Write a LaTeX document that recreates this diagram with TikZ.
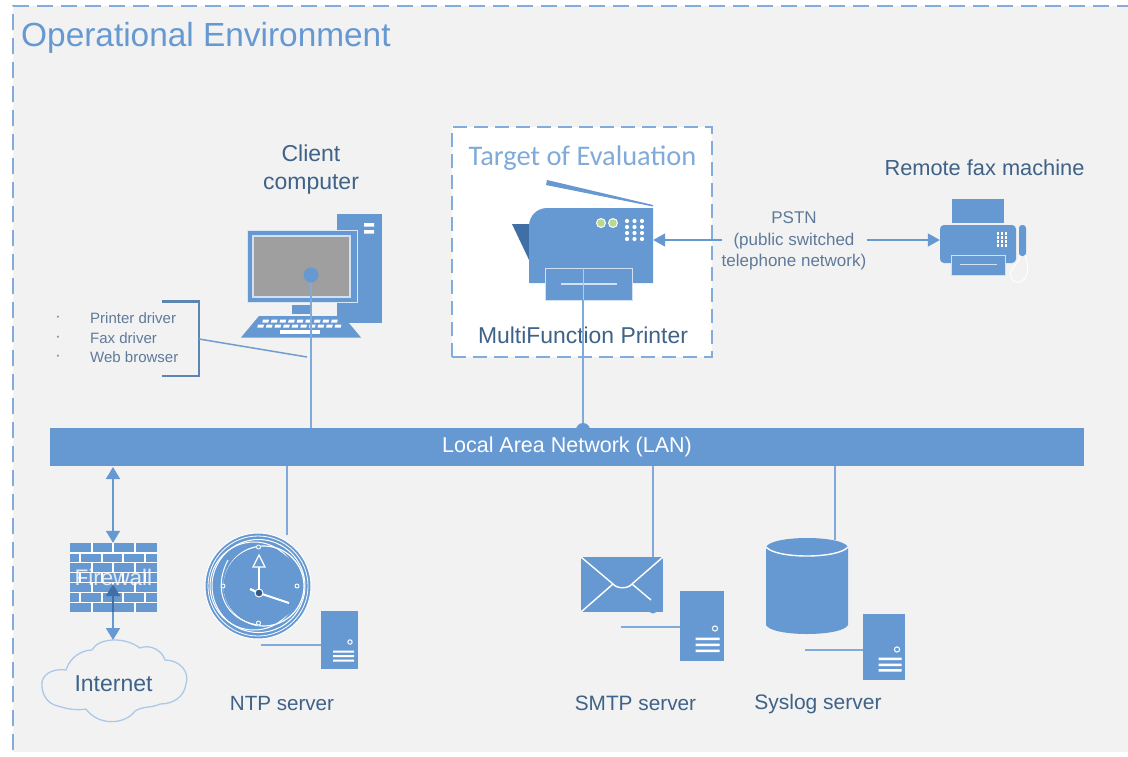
\documentclass[tikz,border=0pt]{standalone}
\usepackage{fontspec}
\setmainfont{Liberation Sans}
\newfontfamily\calib{Carlito}
\usetikzlibrary{arrows.meta,calc}
\definecolor{mainblue}{HTML}{6699D2}
\definecolor{linkblue}{HTML}{7FAAD9}
\definecolor{dashblue}{HTML}{82ACDB}
\definecolor{inkblue}{HTML}{3F6288}
\definecolor{softink}{HTML}{5F7A99}
\definecolor{bggray}{HTML}{F2F2F2}
\definecolor{darkblue}{HTML}{3F6FA5}
\newcommand{\fs}[1]{\fontsize{#1}{#1}\selectfont}
\tikzset{
  solidbox/.style={fill=mainblue,draw=none,inner sep=0pt,minimum width=#1},
  tall/.style={minimum height=#1},
  link/.style={draw=linkblue,line width=1.6pt},
  flow/.style={draw=mainblue,line width=1.7pt,-{Triangle[length=12pt,width=13pt]}},
  twoway/.style={draw=mainblue,line width=1.7pt,{Triangle[length=12pt,width=14pt]}-{Triangle[length=12pt,width=14pt]}},
  label/.style={text=inkblue,inner sep=0pt,align=center},
  whiteln/.style={draw=white,line width=1.4pt},
  paleln/.style={draw=white!70!mainblue,line width=1.2pt},
}
\begin{document}
\begin{tikzpicture}[x=1pt,y=-1pt]
\useasboundingbox (0,0) rectangle (1128,756);
\fill[white] (0,0) rectangle (1128,756);
\fill[bggray] (13,6) rectangle (1128,752);
% outer dashed border
\draw[dashblue,line width=2.2pt,dash pattern=on 16pt off 8pt] (13,750) -- (13,6) -- (1128,6);
\node[text=mainblue,inner sep=0pt,anchor=west] (openv) at (21,37.5) {\fs{33.4}Operational Environment};

% target of evaluation
\node[fill=white,draw=dashblue,line width=2.6pt,dash pattern=on 14pt off 7pt,inner sep=0pt,minimum width=260pt,minimum height=230pt] (toe) at (582,242) {};
\node[inner sep=0pt,text=linkblue] (toetitle) at (582.5,158) {\calib\fs{28.4}Target of Evaluation};

% connectors to LAN (under icons)
\coordinate (lanref) at (567,428);
\coordinate (clientdot) at (311,275);
\coordinate (mfpbase) at (583,300);
\coordinate (ntpdrop) at (287,535);
\coordinate (smtpdrop) at (653,557);
\coordinate (sysdrop) at (835,540);
\draw[link] (mfpbase) -- (mfpbase |- lanref);
\fill[mainblue] (583,430) circle (7pt);
% LAN
\node[solidbox=1034pt,tall=38pt,text=white] (lan) at (567,447) {\raisebox{-2pt}{\fs{21.5}Local Area Network (LAN)}};
\draw[link] (ntpdrop) -- (ntpdrop |- lan.south);
\draw[link] (smtpdrop) -- (smtpdrop |- lan.south);
\draw[link] (sysdrop) -- (sysdrop |- lan.south);

% client computer
\node[label,font=\fontsize{23}{28}\selectfont] (clienttxt) at (311,169.5) {Client\\computer};
\node[solidbox=45pt,tall=109pt] (tower) at (359.5,268.5) {};
\fill[white] (364,223) rectangle (374,226.5) (364,230) rectangle (374,233.5);
\node[solidbox=110pt,tall=72pt,draw=white!75!mainblue,line width=1pt] (monitor) at (302,266) {};
\node[fill=gray!75,draw=white!70!mainblue,line width=1.2pt,inner sep=0pt,minimum width=97pt,minimum height=61pt] (screen) at (301.5,266.5) {};
\node[solidbox=18pt,tall=9pt] (stand) at (301,309.5) {};
\fill[mainblue] (259,316) -- (343,316) -- (361,337.5) -- (241,337.5) -- cycle;
\foreach \i in {0,...,8} \fill[white] ({263+\i*8.6},319.5) -- ++(6,0) -- ++(-0.7,3) -- ++(-6,0) -- cycle;
\foreach \i in {0,...,9} \fill[white] ({258+\i*8.6},324.5) -- ++(6,0) -- ++(-0.7,3) -- ++(-6,0) -- cycle;
\fill[white] (280,330) rectangle (320,333.5);
\draw[link] (clientdot) -- (clientdot |- lan.north);
\fill[mainblue] (clientdot) circle (7.5pt);

% software list
\foreach \n/\y/\t in {pd/318/Printer driver,fd/338/Fax driver,wb/357/Web browser}{
  \node[text=softink,inner sep=0pt,anchor=west] (\n) at (90,\y+0.5) {\fs{15}\t};
  \node[text=softink,inner sep=0pt] (\n dot) at (58,\y+1) {\fs{16}·};
}
\draw[draw=darkblue!85!white,line width=2.2pt] (162,301.5) -- (199,301.5) -- (199,376) -- (162,376);
\coordinate (brk) at (199,339);
\coordinate (brkend) at (307,357);
\draw[draw=linkblue!80!darkblue,line width=1.5pt] (brk) -- (brkend);

% printer
\node[inner sep=0pt,minimum width=124pt,minimum height=75pt] (mfp) at (591,245.5) {};
\fill[darkblue] (512,224) -- (530,224) -- (530,262) -- cycle;
\fill[mainblue] (529,283) -- (529,228) [rounded corners=18pt] -- (529,208) [sharp corners] -- (653,208) -- (653,283) -- cycle;
\fill[mainblue] (547,180) -- (653,205) -- (653,206.5) -- (546,185) -- cycle;
\fill[white] (601,223) circle (5pt) (613,223) circle (5pt);
\fill[black!25!yellow!55!green!50!white] (601,223) circle (3.8pt) (613,223) circle (3.8pt);
\foreach \xx in {627,634.5,642} \foreach \yy in {221,227,233,239} \fill[white] (\xx,\yy) circle (2.1pt);
\node[solidbox=87pt,tall=32pt,draw=white!70!mainblue,line width=1pt] (tray) at (588.5,284) {};
\draw[paleln] (561,284) -- (617,284);
\draw[draw=white!50!mainblue,line width=1pt] (583,268) -- (583,300);
\node[label] (mfptxt) at (583,335) {\fs{22.9}MultiFunction Printer};
\draw[link] (mfpbase) -- (583,357);

% pstn
\node[text=softink,inner sep=0pt,align=center,font=\fontsize{17}{21.5}\selectfont] (pstn) at (794,241) {PSTN\\(public switched\\telephone network)};
\draw[flow] ([yshift=1pt]pstn.west) -- (mfp.east |- 0,240);

% fax
\node[label] (faxtxt) at (984.5,168) {\fs{21.8}Remote fax machine};
\node[solidbox=52pt,tall=24pt] (faxtop) at (978,211) {};
\node[solidbox=76pt,tall=38pt,rounded corners=4pt] (fax) at (978,244) {};
\node[solidbox=54pt,tall=20pt,draw=white!70!mainblue,line width=1pt] (faxtray) at (978,265) {};
\draw[paleln] (960,264.5) -- (997,264.5);
\foreach \xx in {996.5,1000.5,1004.5} \foreach \yy in {232,236,240,244} \fill[white] (\xx,\yy) rectangle ++(2.6,2.6);
\node[solidbox=7pt,tall=31pt,rounded corners=3pt] (handset) at (1022.5,240.5) {};
\draw[white,line width=1pt] (1020,256) .. controls (1020,264) and (1008,268) .. (1011,277) .. controls (1013,285) and (1024,284) .. (1027,274) .. controls (1029,265) and (1026,260) .. (1025,255);
\draw[flow] ([yshift=1pt]pstn.east) -- (fax.west |- 0,240);

% firewall
\node[solidbox=87pt,tall=69pt] (fw) at (113.5,577.5) {};
\foreach \r in {1,...,6} \draw[white,line width=1.3pt] (70,{543+\r*9.86}) -- (157,{543+\r*9.86});
\foreach \r in {0,2,4,6} \foreach \xx in {92,113,135} \draw[white,line width=1.3pt] (\xx,{543+\r*9.86}) -- (\xx,{543+(\r+1)*9.86});
\foreach \r in {1,3,5} \foreach \xx in {80,102,123,145} \draw[white,line width=1.3pt] (\xx,{543+\r*9.86}) -- (\xx,{543+(\r+1)*9.86});
\node[text=white,text opacity=.8,inner sep=0pt] (fwtxt) at (113.5,577) {\fs{22.5}Firewall};
\coordinate (fwin) at (113,584);
\draw[twoway] (113,467) -- (fw.north -| 113,0);
\coordinate (cloudtop) at (113,640);
\draw[draw=darkblue,line width=1.6pt,{Triangle[length=12pt,width=14pt]}-] (fwin) -- (113,612);

% cloud
\draw[draw=linkblue!65!white,line width=1.3pt,fill=bggray]
 (42,687) .. controls (40,675) and (52,668) .. (66,670)
 .. controls (70,657) and (82,650) .. (92,650)
 .. controls (98,638) and (124,636) .. (140,648)
 .. controls (150,644) and (162,650) .. (165,660)
 .. controls (180,660) and (190,672) .. (186,684)
 .. controls (184,698) and (172,704) .. (160,704)
 .. controls (152,708) and (143,706) .. (135,711)
 .. controls (125,725) and (98,726) .. (86,709)
 .. controls (75,711) and (64,708) .. (58,706)
 .. controls (48,704) and (43,696) .. (42,687) -- cycle;
\node[label] (inettxt) at (113.5,684) {\fs{23}Internet};
\draw[draw=mainblue,line width=1.6pt,-{Triangle[length=12pt,width=14pt]}] (fw.south -| cloudtop) -- (cloudtop);

% clock
\node[circle,fill=mainblue,draw=white,line width=1pt,inner sep=0pt,minimum size=106pt] (clock) at (258,586) {};
\draw[white,line width=.8pt] (258,586) circle (50pt);
\draw[white,line width=1pt] (258.5,586) circle (46.5pt);
\draw[white,line width=1.2pt] (264,586) circle (40pt);
\draw[white,line width=1pt] (254,586) circle (44pt);
\fill[mainblue] (262,586) circle (38.5pt);
\draw[white,line width=1pt] (228,560) .. controls (212,590) and (225,620) .. (258,625);
\foreach \px/\py in {223/586,297/586,258.5/623,258.5/547} {\fill[mainblue] (\px,\py) circle (2.6pt); \draw[white,line width=.9pt] (\px,\py) circle (2pt);}
\draw[white,line width=2.2pt] (259,593) -- (259,566);
\draw[white,line width=1.3pt,fill=mainblue] (259,555) -- (265,567) -- (253,567) -- cycle;
\draw[white,line width=2pt] (259,593) -- (289,603);
\draw[white,line width=2.2pt] (259,593) -- (250,589);
\fill[darkblue!80!black] (259,593) circle (4pt);
\draw[white,line width=1pt] (259,593) circle (4pt);
\node[solidbox=37pt,tall=58pt] (ntpsrv) at (339.5,640) {};
\draw[white,line width=1pt] (350,642) circle (2.2pt);
\fill[white] (333,650.5) rectangle (354,652.5) (333,655) rectangle (354,657) (333,659.5) rectangle (354,661.5);
\coordinate (ntpend) at (261,645);
\draw[link] (ntpend) -- (ntpend -| ntpsrv.west);
\node[label] (ntptxt) at (282,703.5) {\fs{20.6}NTP server};

% smtp
\fill[mainblue] (653,609) circle (4.5pt);
\node[solidbox=82pt,tall=55pt] (mail) at (622,584) {};
\draw[whiteln,line join=round] (581,557) -- (613,584) .. controls (617,589) and (628,589) .. (632,584) -- (663,557);
\draw[whiteln] (581,612) -- (613,584);
\draw[whiteln] (632,584) -- (651,600);
\node[solidbox=44pt,tall=70pt] (smtpsrv) at (702,626) {};
\draw[white,line width=1pt] (715,628.5) circle (2.6pt);
\fill[white] (695.5,637.5) rectangle (719.5,640) (695.5,643.5) rectangle (719.5,646) (695.5,649.5) rectangle (719.5,652);
\coordinate (smtpend) at (621,627);
\draw[link] (smtpend) -- (smtpend -| smtpsrv.west);
\node[label] (smtptxt) at (635.5,703.5) {\fs{20.8}SMTP server};

% syslog
\node[inner sep=0pt,minimum width=83pt,minimum height=96pt] (db) at (807,586) {};
\fill[mainblue] (766,547) .. controls (772,535) and (842,535) .. (848,547) -- (848,625) .. controls (842,637) and (772,637) .. (766,625) -- cycle;
\draw[whiteln] (766,547) .. controls (776,559) and (838,559) .. (848,547);
\node[solidbox=42pt,tall=66pt] (syssrv) at (884,647) {};
\draw[white,line width=1pt] (897,649.5) circle (2.6pt);
\fill[white] (878.5,657.5) rectangle (901.5,660) (878.5,663.5) rectangle (901.5,666) (878.5,669) rectangle (901.5,671.5);
\coordinate (sysend) at (805,650);
\draw[link] (sysend) -- (sysend -| syssrv.west);
\node[label] (systxt) at (818,704) {\fs{21}Syslog server};
\end{tikzpicture}
\end{document}
